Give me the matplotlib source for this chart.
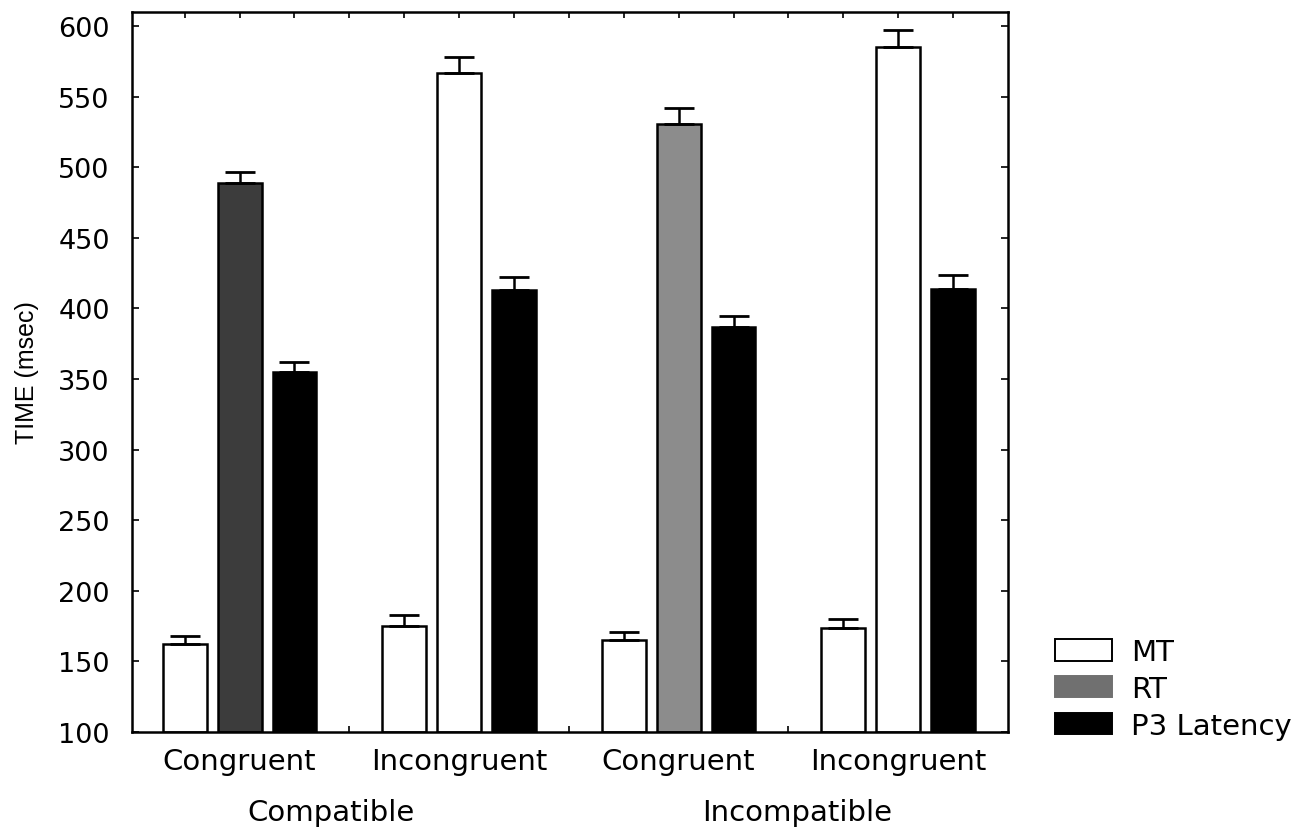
import numpy as np
import matplotlib
matplotlib.use("Agg")
import matplotlib.pyplot as plt
from matplotlib.patches import Patch

plt.rcParams["font.family"] = ["DejaVu Sans"]

# Conditions and group labels
categories = ["Congruent", "Incongruent", "Congruent", "Incongruent"]
groups = ["Compatible", "Incompatible"]
series = ["MT", "RT", "P3 Latency"]

# Mean times (msec)
mt = [162, 175, 165, 174]
rt = [489, 567, 531, 585]
p3 = [355, 413, 387, 414]

# Upper error bar lengths (msec)
mt_err = [6, 8, 6, 6]
rt_err = [8, 11, 11, 12]
p3_err = [7, 9, 8, 10]

# RT fill as printed per condition
rt_fill = ["#3c3c3c", "#ffffff", "#8c8c8c", "#ffffff"]

fig = plt.figure(figsize=(13.15, 8.29), dpi=100)
ax = fig.add_axes([0.1004, 0.1158, 0.6661, 0.8685])

x = np.arange(len(categories))
width = 0.2
offsets = [-0.25, 0.0, 0.25]
err_kw = dict(ecolor="black", elinewidth=1.8, capsize=10.5, capthick=2.0)

def upper(err):
    return [np.zeros(len(err)), err]

ax.bar(x + offsets[0], np.array(mt) - 100, width, bottom=100, color="white",
       edgecolor="black", linewidth=1.8, yerr=upper(mt_err), error_kw=err_kw,
       zorder=2)
ax.bar(x + offsets[1], np.array(rt) - 100, width, bottom=100, color=rt_fill,
       edgecolor="black", linewidth=1.8, yerr=upper(rt_err), error_kw=err_kw,
       zorder=2)
ax.bar(x + offsets[2], np.array(p3) - 100, width, bottom=100, color="black",
       edgecolor="black", linewidth=1.8, yerr=upper(p3_err), error_kw=err_kw,
       zorder=2)

ax.set_xlim(-0.49, 3.5)
ax.set_ylim(100, 610)
ax.set_yticks(np.arange(100, 601, 50))
ax.set_xticks(x)
ax.set_xticklabels(categories, fontsize=21)
ax.set_xticks(np.arange(-0.25, 3.5, 0.25), minor=True)
ax.tick_params(axis="x", which="both", direction="in", length=4, width=1.2,
               top=True, bottom=True, pad=11)
ax.tick_params(axis="y", which="major", direction="in", length=5, width=1.2,
               left=True, right=True, labelsize=19.5, pad=16)
for sp in ax.spines.values():
    sp.set_linewidth(1.8)

ax.set_ylabel("TIME (msec)", fontsize=18,
              family=["Liberation Sans", "DejaVu Sans"])
ax.yaxis.set_label_coords(-0.106, 0.5)

# Group labels under the condition labels
for gx, name in zip([0.415, 2.54], groups):
    ax.text(gx, -0.111, name, transform=ax.get_xaxis_transform(),
            ha="center", va="center", fontsize=21)

handles = [
    Patch(facecolor="white", edgecolor="black", linewidth=1.4, label=series[0]),
    Patch(facecolor="#707070", edgecolor="#707070", linewidth=1.4, label=series[1]),
    Patch(facecolor="black", edgecolor="black", linewidth=1.4, label=series[2]),
]
fig.legend(handles=handles, loc="upper left", bbox_to_anchor=(0.802, 0.229),
           frameon=False, fontsize=21, handlelength=1.95, handleheight=0.75,
           handletextpad=0.66, labelspacing=0.3, borderpad=0, borderaxespad=0)

fig.savefig("out.png", dpi=100, facecolor="white")
